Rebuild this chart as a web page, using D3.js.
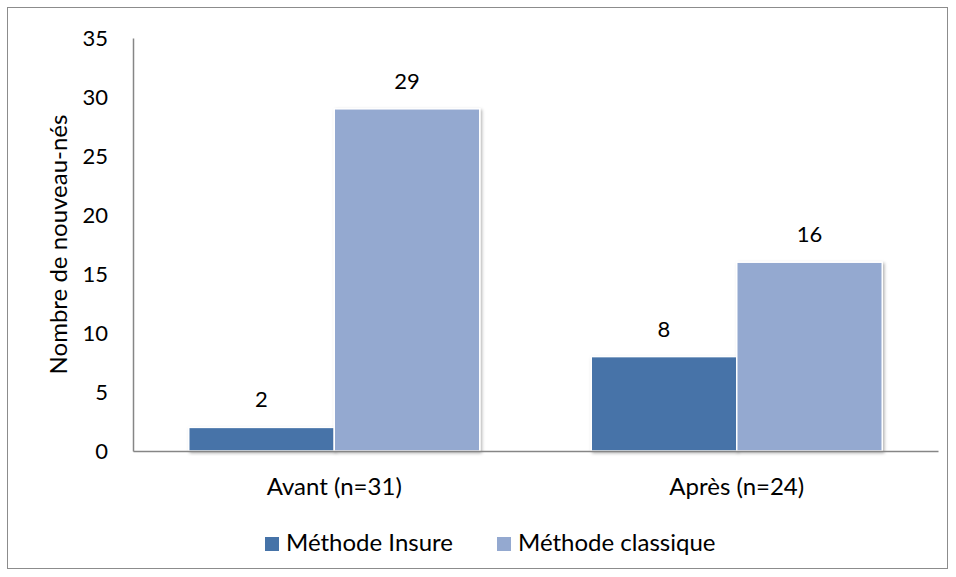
<!DOCTYPE html>
<html>
<head>
<meta charset="utf-8">
<script src="https://cdn.jsdelivr.net/npm/d3@7"></script>
<style>
  body { margin: 0; background: #fff; }
  text { font-family: Lato, "Open Sans", sans-serif; fill: #000; }
</style>
</head>
<body>
<div id="chart"></div>
<script>
// categories + series values
let categories = ['Avant (n=31)', 'Après (n=24)']
let seriesNames = ['Méthode Insure', 'Méthode classique']
let insure = [2, 8]
let classique = [29, 16]
let yTicks = [0, 5, 10, 15, 20, 25, 30, 35]

let colors = ['#4673a8', '#94a9d0']

let W = 956, H = 577
let margin = {top: 38, bottom: 126, left: 133, right: 18}
let width = W - margin.left - margin.right
let height = H - margin.top - margin.bottom

let root = d3.select('#chart')
    .append('svg')
    .attr('width', W)
    .attr('height', H)

// outer frame
root.append('rect')
    .attr('x', 7.5).attr('y', 7.5)
    .attr('width', W - 16).attr('height', H - 16)
    .attr('fill', 'none')
    .attr('stroke', '#8c8c8c')
    .attr('stroke-width', 1)

let defs = root.append('defs')
let f = defs.append('filter').attr('id', 'shadow')
    .attr('x', '-10%').attr('y', '-10%').attr('width', '130%').attr('height', '130%')
f.append('feDropShadow')
    .attr('dx', 1.5).attr('dy', 1.5).attr('stdDeviation', 1.5)
    .attr('flood-color', '#000').attr('flood-opacity', 0.3)

let svg = root.append('g')
    .attr('transform', `translate(${margin.left},${margin.top})`)

let x0 = d3.scaleBand()
    .domain(categories)
    .range([0, width])
    .paddingInner(0.277)
    .paddingOuter(0.1385)

let x1 = d3.scaleBand()
    .domain(seriesNames)
    .range([0, x0.bandwidth()])

let y = d3.scaleLinear()
    .domain([0, 35])
    .range([height, 0])

let rows = categories.map((c, i) => ({cat: c, values: [insure[i], classique[i]]}))

// y axis
let yAxis = svg.append('g')
    .call(d3.axisLeft(y).tickValues(yTicks).tickSize(0).tickPadding(25))
yAxis.select('.domain').attr('stroke', '#868686').attr('stroke-width', 1.5)
yAxis.selectAll('text').attr('font-size', 22).attr('fill', '#000')
    .style('font-family', 'Lato, sans-serif')

let groups = svg.selectAll('.grp')
    .data(rows)
    .enter()
    .append('g')
    .attr('class', 'grp')
    .attr('transform', d => `translate(${x0(d.cat)},0)`)

groups.selectAll('rect')
    .data(d => d.values.map((v, j) => ({name: seriesNames[j], v: v, j: j})))
    .enter()
    .append('rect')
    .attr('x', d => x1(d.name))
    .attr('y', d => y(d.v))
    .attr('width', x1.bandwidth())
    .attr('height', d => height - y(d.v))
    .attr('fill', (d) => colors[d.j])
    .attr('stroke', '#fff')
    .attr('stroke-width', 1.5)
    .attr('filter', 'url(#shadow)')

groups.selectAll('.lbl')
    .data(d => d.values.map((v, j) => ({name: seriesNames[j], v: v})))
    .enter()
    .append('text')
    .attr('class', 'lbl')
    .attr('x', d => x1(d.name) + x1.bandwidth() / 2)
    .attr('y', d => y(d.v) - 20)
    .attr('text-anchor', 'middle')
    .attr('font-size', 22)
    .text(d => d.v)

// x axis
let xAxis = svg.append('g')
    .attr('transform', `translate(0,${height})`)
    .call(d3.axisBottom(x0).tickSize(0).tickPadding(27))
xAxis.select('.domain').attr('stroke', '#868686').attr('stroke-width', 1.5)
xAxis.selectAll('text').attr('font-size', 24).attr('fill', '#000')
    .style('font-family', 'Lato, sans-serif')

// y title
root.append('text')
    .attr('transform', `translate(67,${margin.top + height / 2}) rotate(-90)`)
    .attr('text-anchor', 'middle')
    .attr('font-size', 24)
    .text('Nombre de nouveau-nés')

// legend
let legend = root.append('g').attr('transform', 'translate(265,551)')
let legX = [0, 232]
seriesNames.forEach((n, i) => {
    let g = legend.append('g').attr('transform', `translate(${legX[i]},0)`)
    g.append('rect').attr('x', 0).attr('y', -14).attr('width', 14).attr('height', 14)
        .attr('fill', colors[i])
    g.append('text').attr('x', 21).attr('y', 0)
        .attr('font-size', 24).text(n)
})
</script>
</body>
</html>
